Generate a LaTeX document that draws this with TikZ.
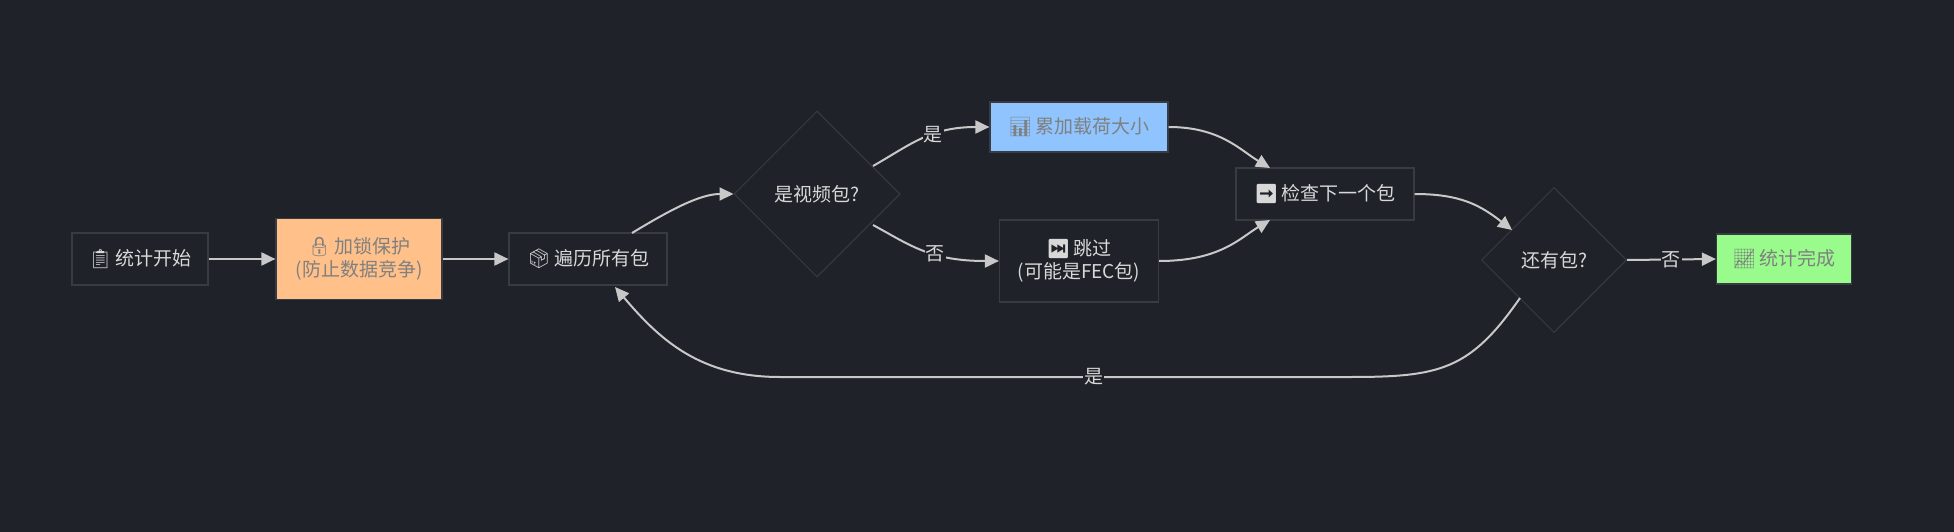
\documentclass[tikz,border=0pt]{standalone}
\usepackage{fontspec}
\setmainfont{Noto Sans CJK SC}
\newfontfamily\emo{Noto Emoji}
\usetikzlibrary{shapes.geometric,arrows.meta}
\definecolor{bg}{HTML}{1F2229}
\definecolor{bd}{HTML}{383B42}
\definecolor{tx}{HTML}{D8D8D8}
\definecolor{ln}{HTML}{C8C8C8}
\begin{document}
\begin{tikzpicture}[x=1pt,y=-1pt,font=\fontsize{19}{23}\selectfont,
  box/.style={draw=bd,line width=1.2pt,fill=bg,text=tx,inner sep=0pt,align=center},
  dia/.style={draw=bd,line width=1pt,fill=bg,text=tx,diamond,aspect=1,inner sep=0pt},
  arr/.style={draw=ln,line width=2pt,-{Triangle[length=14pt,width=13pt]}},
  lbl/.style={fill=bg,text=tx,inner sep=1pt}]
\fill[bg] (0,0) rectangle (1954,532);
\useasboundingbox (0,0) rectangle (1954,532);
\node[box,minimum width=136pt,minimum height=52pt] (s) at (140,259) {{\emo 📋}\,统计开始};
\node[box,fill=orange!40!white,draw=bd,text=gray,minimum width=166pt,minimum height=81pt,fill={rgb,255:red,255;green,192;blue,138}] (l) at (359,259) {{\emo 🔒}\,加锁保护\\(防止数据竞争)};
\node[box,minimum width=158pt,minimum height=52pt] (t) at (588,259) {{\emo 📦}\,遍历所有包};
\node[dia,minimum width=166pt,minimum height=166pt] (d1) at (817,194) {是视频包?};
\node[box,fill={rgb,255:red,143;green,196;blue,255},text=gray,minimum width=178pt,minimum height=50pt] (b) at (1079,127) {{\emo 📊}\,累加载荷大小};
\node[box,minimum width=159pt,minimum height=82pt] (k) at (1079,261) {{\emo ⏭}\,跳过\\(可能是FEC包)};
\node[box,minimum width=178pt,minimum height=52pt] (c) at (1325,194) {{\emo ➡}\,检查下一个包};
\node[dia,minimum width=145pt,minimum height=145pt] (d2) at (1554,260) {还有包?};
\node[box,fill={rgb,255:red,152;green,251;blue,139},text=gray,minimum width=135pt,minimum height=50pt] (e) at (1784,259) {{\emo 📈}\,统计完成};
\coordinate (lp1) at (780,377);
\coordinate (lp2) at (1400,377);
\draw[arr] (s) -- (l);
\draw[arr] (l) -- (t);
\draw[arr] (632,233) .. controls (670,210) and (700,194) .. (d1.west);
\draw[arr] (873,166) .. controls (910,145) and (930,127) .. node[lbl,pos=0.6]{是} (b.west);
\draw[arr] (873,225) .. controls (910,245) and (930,261) .. node[lbl,pos=0.6]{否} (k.west);
\draw[arr] (b.east) .. controls (1220,127) and (1240,150) .. (1270,168);
\draw[arr] (k.east) .. controls (1220,261) and (1240,238) .. (1270,220);
\draw[arr] (c.east) .. controls (1460,194) and (1480,205) .. (1512,230);
\draw[arr] (d2.east) -- node[lbl]{否} (e.west);
\draw[arr] (1520,298) .. controls (1470,370) and (1440,377) .. (1350,377) -- node[lbl,pos=0.45]{是} (780,377) .. controls (700,377) and (660,340) .. (615,287);
\end{tikzpicture}
\end{document}
